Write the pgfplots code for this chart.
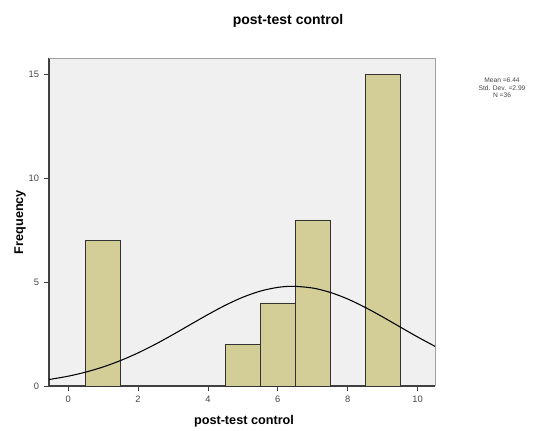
\documentclass[border=0pt]{standalone}
\usepackage{pgfplots}
\pgfplotsset{compat=1.18}
\usepackage{fontspec}
\setmainfont{Liberation Sans}
\definecolor{barfill}{RGB}{211,206,151}
\definecolor{bgcol}{RGB}{240,240,240}
\definecolor{framegray}{RGB}{160,160,160}
\definecolor{ticktext}{RGB}{70,70,70}
\begin{document}
\begin{tikzpicture}
\useasboundingbox (0,0) rectangle (405pt,322.5pt);
\begin{axis}[
  at={(36.75pt,33pt)}, anchor=south west,
  scale only axis, width=289.5pt, height=246pt,
  xmin=-0.55, xmax=10.5, ymin=0, ymax=15.8,
  axis lines*=left,
  axis line style={draw=black!75, line width=0.8pt},
  axis background/.style={fill=bgcol},
  xtick={0,2,4,6,8,10}, ytick={0,5,10,15},
  tick align=outside, major tick length=4pt,
  tick style={black!75, line width=0.6pt},
  ticklabel style={font=\fontsize{7}{8}\selectfont, text=ticktext},
  /pgf/number format/assume math mode=true,
  clip=false,
]
\draw[framegray, line width=0.6pt] (rel axis cs:0,1) -- (rel axis cs:1,1) -- (rel axis cs:1,0);
\addplot[ybar, bar width=1, fill=barfill, draw=black!80, line width=0.6pt] coordinates {
  (1,7) (5,2) (6,4) (7,8) (9,15)
};
\addplot[black, line width=0.8pt, smooth, no marks] coordinates {
  (-0.55,0.310) (-0.5,0.325) (0,0.473) (0.5,0.668) (1,0.918) (1.5,1.227) (2,1.595)
  (2.5,2.016) (3,2.478) (3.5,2.962) (4,3.442) (4.5,3.891) (5,4.277)
  (5.5,4.571) (6,4.751) (6.44,4.803) (7,4.719) (7.5,4.510) (8,4.192)
  (8.5,3.788) (9,3.329) (9.5,2.845) (10,2.364) (10.5,1.911)
};
\end{axis}
\node[font=\fontsize{10.5}{12}\selectfont\bfseries] at (216pt,306.75pt) {post-test control};
\node[font=\fontsize{9.5}{11}\selectfont\bfseries] at (183pt,6.5pt) {post-test control};
\node[font=\fontsize{9.5}{11}\selectfont\bfseries, rotate=90] at (15pt,156pt) {Frequency};
\node[font=\fontsize{5}{5.5}\selectfont, align=center, text=ticktext] at (376.5pt,256.5pt) {Mean =6.44\\Std. Dev. =2.99\\N =36};
\end{tikzpicture}
\end{document}
